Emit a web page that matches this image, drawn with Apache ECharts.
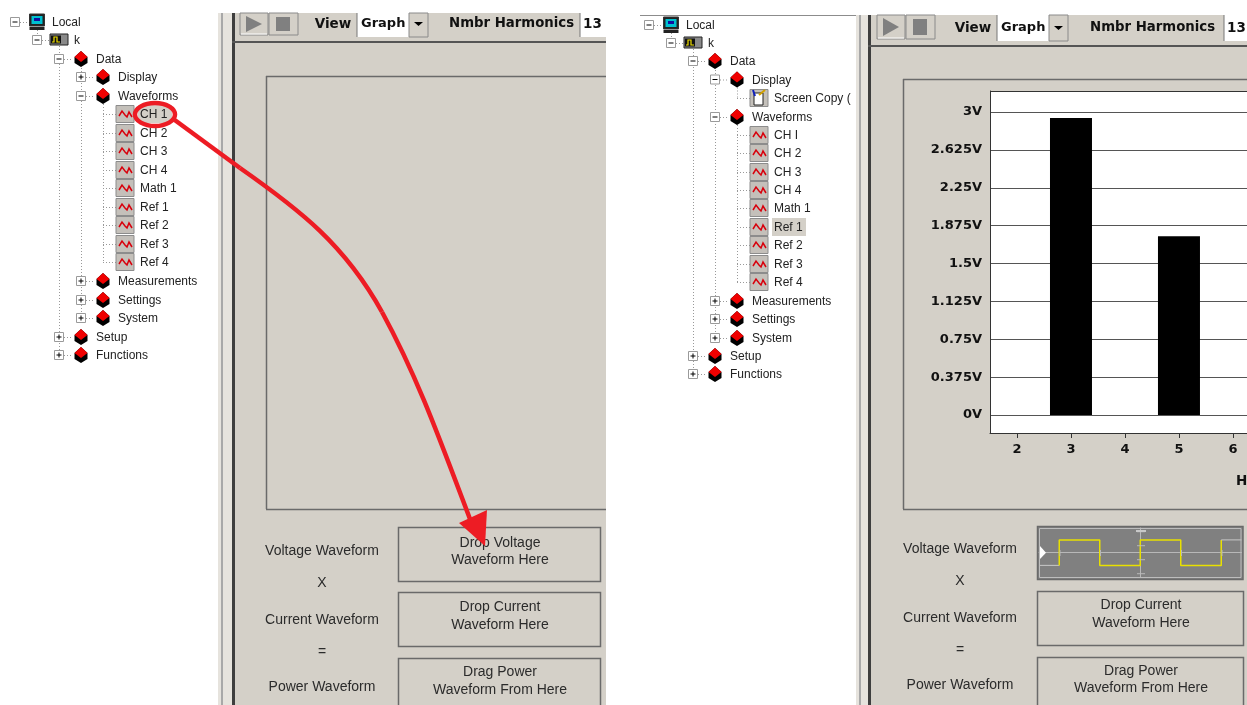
<!DOCTYPE html>
<html><head><meta charset="utf-8">
<style>html,body{margin:0;padding:0;background:#fff;overflow:hidden}#c{width:1247px;height:705px}</style>
<script src="https://cdn.jsdelivr.net/npm/echarts@6/dist/echarts.min.js"></script>
</head><body><div id="c"></div>
<script>
// ---- chart data ----
var harmonics = [2, 3, 4, 5, 6];
var harmonicVolts = [0, 2.94, 0, 1.77, 0];
var voltTicks = [0, 0.375, 0.75, 1.125, 1.5, 1.875, 2.25, 2.625, 3];
var waveTimes = [-2, -2, -1, -1, 0, 0, 1, 1, 2, 2];
var waveLevels = [-0.92, 0.9, 0.9, -0.92, -0.92, 0.9, 0.9, -0.92, -0.92, 0.9];
var waveLeadIn = [[-2.5, -0.92], [-2, -0.92]];
var waveTail = [[2, 0.9], [2.5, 0.9]];
// ---- tree text ----
var leftTree = [['Local',22,0,'pc','-'],['k',40,1,'scope','-'],['Data',59,2,'d','-'],['Display',77,3,'d','+'],['Waveforms',96,3,'d','-'],
 ['CH 1',114,4,'w'],['CH 2',133,4,'w'],['CH 3',151,4,'w'],['CH 4',170,4,'w'],['Math 1',188,4,'w'],['Ref 1',207,4,'w'],['Ref 2',225,4,'w'],['Ref 3',244,4,'w'],['Ref 4',262,4,'w'],
 ['Measurements',281,3,'d','+'],['Settings',300,3,'d','+'],['System',318,3,'d','+'],['Setup',337,2,'d','+'],['Functions',355,2,'d','+']];
var rightTree = [['Local',25,0,'pc','-'],['k',43,1,'scope','-'],['Data',61,2,'d','-'],['Display',79.5,3,'d','-'],['Screen Copy (',98,4,'s'],['Waveforms',117,3,'d','-'],
 ['CH I',135,4,'w'],['CH 2',153,4,'w'],['CH 3',172,4,'w'],['CH 4',190,4,'w'],['Math 1',208,4,'w'],['Ref 1',227,4,'w'],['Ref 2',245,4,'w'],['Ref 3',264,4,'w'],['Ref 4',282,4,'w'],
 ['Measurements',301,3,'d','+'],['Settings',319,3,'d','+'],['System',338,3,'d','+'],['Setup',356,2,'d','+'],['Functions',374,2,'d','+']];

var G = [];
var BG = '#d4d0c8', INK = '#2b2b2b', RED = '#ed1c24', UI = '"Liberation Sans",Arial,sans-serif', BOLD = '"DejaVu Sans",sans-serif';
function rect(x,y,w,h,fill,stroke,z,lw){G.push({type:'rect',shape:{x:x,y:y,width:w,height:h},style:{fill:fill||'none',stroke:stroke||'none',lineWidth:lw||1},z:z===undefined?-5:z,silent:true});}
function line(x1,y1,x2,y2,c,lw,dash,z){G.push({type:'line',shape:{x1:x1,y1:y1,x2:x2,y2:y2},style:{stroke:c,lineWidth:lw||1,lineDash:dash||null},z:z===undefined?-4:z,silent:true});}
function poly(pts,fill,z){G.push({type:'polygon',shape:{points:pts},style:{fill:fill},z:z===undefined?-3:z,silent:true});}
function txt(s,x,y,o){o=o||{};G.push({type:'text',x:x,y:y,style:{text:s,fill:o.c||INK,font:(o.w||'normal')+' '+(o.s||14)+'px '+(o.f||UI),textAlign:o.a||'center',textVerticalAlign:'middle'},z:o.z===undefined?-2:o.z,silent:true});}

function tree(rows,dx){
  var X = function(l){return dx+15+22*l;};
  function vert(l,a,b){line(X(l)+.5,a,X(l)+.5,b,'#999',1,[1,2]);}
  var y=function(n){for(var i=0;i<rows.length;i++)if(rows[i][0]===n)return rows[i][1];};
  vert(1,y('Local')+8,y('k')-4);
  vert(2,y('k')+6,y('Functions')-5);
  vert(3,y('Data')+6,y('System')-5);
  vert(4,y('Waveforms')+8,y('Ref 4'));
  if(rows.length>19) vert(4,y('Display')+8,y('Screen Copy ('));
  rows.forEach(function(r){
    var l=r[2], yy=r[1], cx=X(l), k=r[3];
    if(r[4]){
      line(cx+5,yy+.5,cx+14,yy+.5,'#999',1,[1,2]);
      rect(cx-4.5,yy-4.5,9,9,'#fff','#9a9a9a',-3);
      line(cx-2.5,yy,cx+2.5,yy,'#000',1,null,-2);
      if(r[4]==='+') line(cx,yy-2.5,cx,yy+2.5,'#000',1,null,-2);
    } else { line(cx,yy+.5,cx+13,yy+.5,'#999',1,[1,2]); }
    var ix=cx+22, tx=cx+37;
    if(k==='d'){
      poly([[ix,yy-8],[ix+6.5,yy-2],[ix+6.5,yy+4],[ix,yy+8],[ix-6.5,yy+4],[ix-6.5,yy-2]],'#000');
      poly([[ix,yy-8],[ix+6.5,yy-2],[ix,yy+3],[ix-6.5,yy-2]],'#f00000');
    } else if(k==='w'){
      rect(ix-9,yy-8.5,18,17,'#c4c0ba','#8c8c8c',-3);
      G.push({type:'polyline',shape:{points:[[ix-6,yy+2],[ix-3,yy-3],[ix,yy+1],[ix+2,yy+3],[ix+4,yy-2],[ix+7,yy+3]]},style:{stroke:'#d8000c',lineWidth:1.5,fill:'none'},z:-2,silent:true});
    } else if(k==='s'){
      rect(ix-9,yy-8.5,18,17,'#c4c0ba','#8c8c8c',-3);
      rect(ix-5,yy-5,9,12,'#fff','#222',-2);
      line(ix,yy-3,ix+6,yy-8,'#d0a000',2,null,-1);
      line(ix-4,yy-2,ix-6,yy-8,'#1020c0',2,null,-1);
    } else if(k==='pc'){
      rect(ix-7.5,yy-8,15,12,'#222','#333',-3);
      rect(ix-5.5,yy-6,11,8,'#00c0d0',null,-2);
      rect(ix-3,yy-4,6,3,'#1010a0',null,-1);
      rect(ix-7.5,yy+5,15,3,'#222',null,-3);
    } else {
      rect(ix-9,yy-6,18,11,'#8a8a8a','#222',-3);
      rect(ix-8,yy-4.5,10,8,'#111',null,-2);
      G.push({type:'polyline',shape:{points:[[ix-7,yy+2],[ix-5,yy+2],[ix-5,yy-3],[ix-2,yy-3],[ix-2,yy+2],[ix+1,yy+2]]},style:{stroke:'#f0e000',lineWidth:1.2,fill:'none'},z:-1,silent:true});
    }
    if(r[0]==='Ref 1' && dx>0) rect(cx+35,yy-9,34,18,BG,null,-3);
    if(r[0]==='CH 1' && dx===0) rect(cx+35,yy-9,34,18,BG,null,-3);
    txt(r[0],tx,yy+1,{a:'left',s:12,c:'#222'});
  });
}
tree(leftTree,0); tree(rightTree,634);
line(640,15.5,856,15.5,'#8c8c8c',1);

// ---- app panels ----
function panel(o){
  rect(o.x0,o.top,o.dark-o.x0,705-o.top,'#e6e3dd',null,-8);
  rect(o.x0+3,o.top,2,705-o.top,'#a8a8a8',null,-7);
  rect(o.dark,o.top,o.right-o.dark,705-o.top,BG,null,-8);
  rect(o.dark,o.top,3,705-o.top,'#3e3e3e',null,-7);
  rect(o.dark,o.hdr,o.right-o.dark,2,'#555',null,-7);
  var b=o.btn, t=o.top, h=o.hdr-t-6;
  rect(b,t,28,h,BG,'#8a8a8a',-6); rect(b+29,t,29,h,BG,'#8a8a8a',-6);
  line(b+1,t+h-1,b+27,t+h-1,'#fff',1,null,-5);
  poly([[b+6,t+3],[b+22,t+h/2],[b+6,t+h-3]],'#808080');
  rect(b+36,t+4,14,h-8,'#808080',null,-4);
  txt('View',o.view,o.ty,{w:'bold',s:13.5,f:BOLD,c:'#111'});
  rect(o.gx,t,o.gw,h+2,'#fff',null,-6);
  line(o.gx,t,o.gx,t+h+2,'#777',1);
  txt('Graph',o.gx+4,o.ty,{a:'left',w:'bold',s:13,f:BOLD,c:'#111'});
  rect(o.gx+o.gw,t,19,h+2,BG,'#8a8a8a',-6);
  poly([[o.gx+o.gw+5,o.ty-2],[o.gx+o.gw+14,o.ty-2],[o.gx+o.gw+9.5,o.ty+2]],'#000');
  txt('Nmbr Harmonics',o.nx,o.ty,{a:'left',w:'bold',s:13.3,f:BOLD,c:'#111'});
  rect(o.hx,t,o.right-o.hx,h+2,'#fff',null,-6);
  line(o.hx,t,o.hx,t+h+2,'#777',1);
  txt('13',o.hx+3,o.ty,{a:'left',w:'bold',s:13.5,f:BOLD,c:'#111'});
  line(o.fx+.5,o.fy,o.fx+.5,o.fb,'#6a6a6a',1.5);
  line(o.fx,o.fy+.5,o.right,o.fy+.5,'#6a6a6a',1.5);
  line(o.fx,o.fb+.5,o.right,o.fb+.5,'#6a6a6a',1.5);
}
panel({x0:218,dark:232,right:606,top:13,hdr:41,btn:240,view:333,ty:24,gx:357,gw:52,nx:449,hx:580,fx:266,fy:76,fb:509});
panel({x0:856,dark:868,right:1247,top:15,hdr:45,btn:877,view:973,ty:28,gx:997,gw:52,nx:1090,hx:1224,fx:903,fy:79,fb:509});

// ---- labels & drop boxes ----
[[322,0],[960,-2]].forEach(function(p){
  [['Voltage Waveform',551],['X',583],['Current Waveform',620],['=',652],['Power Waveform',687]].forEach(function(t){
    txt(t[0],p[0],t[1]+p[1],{s:14});
  });
});
function dropBox(x,w,y,h,a,b,ya,yb){
  rect(x+.5,y+.5,w,h,null,'#6a6a6a',-3,1.5);
  txt(a,x+w/2+1,ya,{s:14}); txt(b,x+w/2+1,yb,{s:14});
}
dropBox(398,202,527,54,'Drop Voltage','Waveform Here',543,560);
dropBox(398,202,592,54,'Drop Current','Waveform Here',607,625);
dropBox(398,202,658,60,'Drag Power','Waveform From Here',672,690);
dropBox(1037,206,591,54,'Drop Current','Waveform Here',605,623);
dropBox(1037,206,657,60,'Drag Power','Waveform From Here',671,688);

// ---- waveform thumbnail frame ----
rect(1037.5,526.5,205.5,53,'#808080','#6a6a6a',-3,1.5);
rect(1039.5,528.5,201.5,49,null,'#bdbdbd',6,1);
[-2,-1,1,2].forEach(function(d){var x=1141+d*40.5;line(x,550,x,556,'#b8b8b8',1,null,6);});
[-1.5,-0.5,0.5,1.5].forEach(function(d){var y=552.7+d*14;line(1137,y,1145,y,'#b8b8b8',1,null,6);});
line(1136,531,1146,531,'#c8c8c8',2,null,6);
poly([[1040,546],[1046,552.7],[1040,559]],'#fff',7);

// ---- plot top edge and x-axis title, both running off the window ----
line(990,91.5,1247,91.5,'#333',1,null,4);
txt('Harmonics',1236,481,{a:'left',w:'bold',s:13.5,f:BOLD,c:'#111'});

// ---- red annotation ----
function curve(a,b,c,d){G.push({type:'bezierCurve',shape:{x1:a[0],y1:a[1],cpx1:b[0],cpy1:b[1],cpx2:c[0],cpy2:c[1],x2:d[0],y2:d[1]},style:{fill:'none',stroke:RED,lineWidth:4.5},z:50,silent:true});}
G.push({type:'ellipse',shape:{cx:155,cy:114.5,rx:20,ry:11.5},style:{fill:'none',stroke:RED,lineWidth:4.5},z:50,silent:true});
line(172,118,240,168,RED,4.5,null,50);
curve([240,168],[300,210],[345,245],[382,312]);
curve([382,312],[418,378],[440,440],[473,527]);
poly([[487,510],[459,523],[485,546]],RED,51);

var chart = echarts.init(document.getElementById('c'),null,{renderer:'canvas'});
chart.setOption({
  animation:false,
  backgroundColor:'#fff',
  graphic:{elements:G},
  grid:[
    {left:990,top:91,width:257,height:342,show:true,backgroundColor:'#fff',borderWidth:0},
    {left:1039,top:528,width:202.5,height:49,show:false}
  ],
  xAxis:[
    {type:'value',gridIndex:0,min:1.5,max:6.26,
     axisLine:{onZero:false,lineStyle:{color:'#333'}},
     axisTick:{customValues:harmonics,length:5,lineStyle:{color:'#333'}},
     axisLabel:{customValues:harmonics,color:'#111',fontFamily:BOLD,fontWeight:'bold',fontSize:13,margin:10},
     splitLine:{show:false}},
    {type:'value',gridIndex:1,min:-2.5,max:2.5,axisLabel:{show:false},axisTick:{show:false},splitLine:{show:false},
     axisLine:{show:true,onZero:true,lineStyle:{color:'#b8b8b8',width:1}}}
  ],
  yAxis:[
    {type:'value',gridIndex:0,min:-0.178,max:3.208,
     axisLine:{show:true,lineStyle:{color:'#333'}},
     axisTick:{show:false,customValues:voltTicks},
     axisLabel:{customValues:voltTicks,showMinLabel:true,showMaxLabel:true,formatter:function(v){return v+'V';},color:'#111',fontFamily:BOLD,fontWeight:'bold',fontSize:13,margin:8},
     splitLine:{show:true,lineStyle:{color:'#555',width:1}}},
    {type:'value',gridIndex:1,min:-1.75,max:1.75,axisLabel:{show:false},axisTick:{show:false},splitLine:{show:false},
     axisLine:{show:true,onZero:true,lineStyle:{color:'#b8b8b8',width:1}}}
  ],
  series:[
    {type:'bar',name:'Harmonic volts',xAxisIndex:0,yAxisIndex:0,data:harmonics.map(function(h,i){return [h,harmonicVolts[i]];}),barWidth:42,itemStyle:{color:'#000'},z:3},
    {type:'line',name:'lead-in',xAxisIndex:1,yAxisIndex:1,data:waveLeadIn,symbol:'none',lineStyle:{color:'#c8c8c8',width:1},z:5},
    {type:'line',name:'Voltage waveform',xAxisIndex:1,yAxisIndex:1,data:waveTimes.map(function(t,i){return [t,waveLevels[i]];}),symbol:'none',lineStyle:{color:'#e8e000',width:1.5},z:5},
    {type:'line',name:'tail',xAxisIndex:1,yAxisIndex:1,data:waveTail,symbol:'none',lineStyle:{color:'#c8c8c8',width:1},z:5}
  ]
});
</script></body></html>
